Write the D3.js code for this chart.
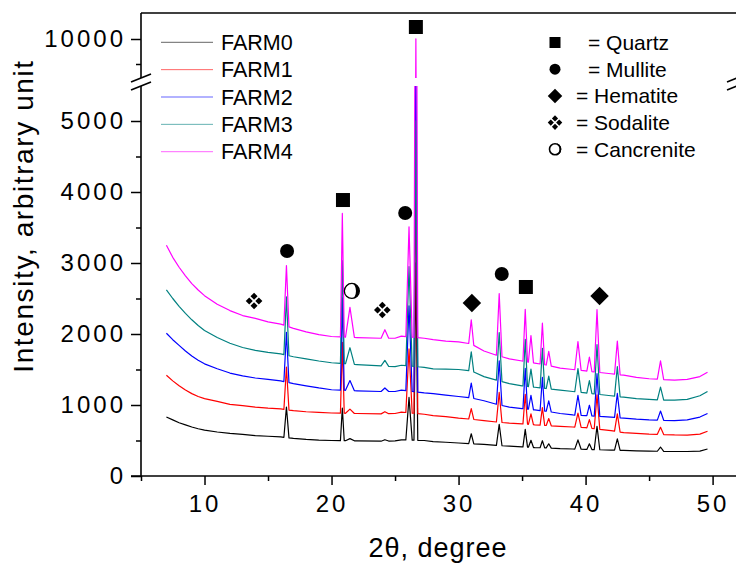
<!DOCTYPE html>
<html>
<head>
<meta charset="utf-8">
<script src="https://cdn.jsdelivr.net/npm/d3@7"></script>
<style>
body { margin: 0; background: #fff; }
text { font-family: "Liberation Sans", Arial, sans-serif; fill: #000; }
</style>
</head>
<body>
<svg id="chart" width="736" height="566"></svg>
<script>
// ---- data ----
var series = ['FARM0', 'FARM1', 'FARM2', 'FARM3', 'FARM4'];
var colors = ['#000000', '#ff0000', '#0000ff', '#008080', '#ff00ff'];

// background (amorphous hump + offset) of each pattern, intensity vs 2theta
var baseTheta = [7, 7.5, 8, 8.5, 9, 9.5, 10, 11, 12, 13, 14, 15, 16, 17, 18, 19, 20, 22, 24, 25, 25.5, 27.3,
	28, 29, 30, 31, 32, 33, 34, 35, 36, 37, 38, 39, 40, 41, 42, 43, 44, 45, 46, 47, 48, 49, 49.6];
var baseline0 = [830, 790, 750, 720, 690, 665, 645, 620, 600, 585, 570, 560, 550, 530, 515, 505, 500, 495, 490, 495, 510, 500,
	485, 475, 465, 455, 445, 430, 420, 410, 400, 395, 385, 380, 375, 370, 365, 360, 355, 350, 348, 345, 345, 350, 380];
var baseline1 = [1420, 1340, 1270, 1210, 1160, 1120, 1090, 1050, 1010, 990, 970, 955, 945, 920, 905, 895, 887, 880, 875, 880, 900, 870,
	850, 835, 815, 800, 780, 760, 745, 735, 720, 710, 700, 690, 680, 660, 640, 610, 600, 590, 585, 578, 575, 590, 630];
var baseline2 = [2010, 1920, 1840, 1760, 1690, 1630, 1580, 1510, 1450, 1410, 1380, 1360, 1340, 1300, 1270, 1240, 1215, 1200, 1190, 1190, 1210, 1170,
	1160, 1140, 1120, 1100, 1060, 1010, 970, 950, 930, 910, 880, 860, 850, 840, 830, 815, 800, 790, 785, 780, 790, 830, 880];
var baseline3 = [2620, 2500, 2390, 2290, 2200, 2120, 2050, 1950, 1870, 1810, 1770, 1740, 1720, 1680, 1650, 1620, 1595, 1570, 1550, 1540, 1560, 1530,
	1510, 1505, 1500, 1480, 1400, 1350, 1300, 1270, 1250, 1230, 1210, 1190, 1170, 1150, 1130, 1110, 1090, 1080, 1070, 1070, 1080, 1130, 1190];
var baseline4 = [3250, 3080, 2940, 2820, 2710, 2620, 2540, 2420, 2330, 2260, 2220, 2170, 2140, 2080, 2030, 1990, 1965, 1950, 1940, 1940, 1970, 1940,
	1920, 1900, 1890, 1860, 1760, 1700, 1650, 1620, 1590, 1560, 1520, 1500, 1480, 1460, 1440, 1420, 1390, 1370, 1360, 1350, 1360, 1400, 1460];

// diffraction peaks: position, half width at the foot, height above background
var peakTheta = [16.45, 20.85, 21.45, 24.2, 26.1, 26.64, 31.0, 33.2, 35.25, 35.7, 36.6, 37.1, 39.4, 40.3, 40.9, 42.5, 45.9];
var peakHalfWidth = [0.2, 0.15, 0.35, 0.3, 0.25, 0.15, 0.2, 0.22, 0.18, 0.2, 0.18, 0.2, 0.25, 0.2, 0.22, 0.22, 0.25];
var peaks0 = [430, 460, 30, 20, 600, 2500, 140, 300, 250, 100, 100, 60, 130, 80, 330, 160, 60];
var peaks1 = [600, 1000, 60, 30, 900, 3420, 150, 420, 420, 150, 250, 100, 200, 120, 480, 250, 100];
var peaks2 = [700, 1300, 140, 50, 1200, 4800, 210, 620, 570, 200, 470, 150, 280, 150, 600, 340, 130];
var peaks3 = [820, 1450, 230, 80, 1400, 3460, 270, 680, 660, 250, 560, 180, 330, 180, 700, 420, 180];
var peaks4 = [850, 1740, 420, 120, 1550, 8050, 340, 880, 735, 380, 580, 200, 400, 200, 880, 470, 260];

// phase markers
var markerTheta = [26.64, 20.9, 35.3, 16.5, 25.8, 33.4, 31.05, 41.1, 13.9, 24.0, 21.6];
var markerValue = [10240, 3887, 2662, 3169, 3704, 2845, 2437, 2535, 2465, 2338, 2606];
var markerType = ['Q', 'Q', 'Q', 'M', 'M', 'M', 'H', 'H', 'S', 'S', 'C'];
var phaseTypes = ['Q', 'M', 'H', 'S', 'C'];
var phaseLabels = ['= Quartz', '= Mullite', '= Hematite', '= Sodalite', '= Cancrenite'];

var xTicks = [10, 20, 30, 40, 50];
var xMinor = [5, 15, 25, 35, 45];
var yTicksLow = [0, 1000, 2000, 3000, 4000, 5000];
var yMinorLow = [500, 1500, 2500, 3500, 4500];
var yTicksHigh = [10000];
var yMinorHigh = [9500];

var baselines = [baseline0, baseline1, baseline2, baseline3, baseline4];
var peaks = [peaks0, peaks1, peaks2, peaks3, peaks4];

// ---- layout ----
var svg = d3.select('#chart');
var plotLeft = 141, plotRight = 737, plotTop = 13, plotBottom = 476;
var breakLow = 86, breakHigh = 78;

var x = d3.scaleLinear().domain([5, 52]).range([plotLeft, 738]);
var yLow = d3.scaleLinear().domain([0, 5500]).range([plotBottom, 85.5]);
var yHigh = d3.scaleLinear().domain([9220, 10520]).range([breakHigh, plotTop]);

var defs = svg.append('defs');
defs.append('clipPath').attr('id', 'clipLow').append('rect')
	.attr('x', plotLeft).attr('y', breakLow).attr('width', plotRight - plotLeft).attr('height', plotBottom - breakLow);
defs.append('clipPath').attr('id', 'clipHigh').append('rect')
	.attr('x', plotLeft).attr('y', plotTop).attr('width', plotRight - plotLeft).attr('height', breakHigh - plotTop);

function buildSeries(i) {
	var base = d3.scaleLinear().domain(baseTheta).range(baselines[i]);
	var pts = [];
	baseTheta.forEach(function(t, k) {
		var covered = peakTheta.some(function(p, j) { return Math.abs(t - p) <= peakHalfWidth[j]; });
		if (!covered) pts.push([t, baselines[i][k]]);
	});
	peakTheta.forEach(function(p, j) {
		var w = peakHalfWidth[j];
		pts.push([p - w, base(p - w)]);
		pts.push([p, base(p) + peaks[i][j]]);
		pts.push([p + w, base(p + w)]);
	});
	pts.sort(function(a, b) { return a[0] - b[0]; });
	return pts;
}

var data = series.map(function(s, i) { return buildSeries(i); });

[['clipLow', yLow], ['clipHigh', yHigh]].forEach(function(panel) {
	var y = panel[1];
	var line = d3.line().x(function(d) { return x(d[0]); }).y(function(d) { return y(d[1]); });
	svg.append('g').attr('clip-path', 'url(#' + panel[0] + ')')
		.selectAll('path').data(data).enter().append('path')
		.attr('d', line)
		.attr('fill', 'none')
		.attr('stroke', function(d, i) { return colors[i]; })
		.attr('stroke-width', 1.2)
		.attr('stroke-linejoin', 'round');
});

// ---- axes ----
function styleAxis(g) {
	g.select('.domain').remove();
	g.selectAll('line').attr('stroke', '#000').attr('stroke-width', 1.5);
	g.selectAll('text').attr('font-size', 24).attr('letter-spacing', 3)
		.attr('font-family', '"Liberation Sans", Arial, sans-serif');
}

svg.append('g').attr('transform', 'translate(0,' + plotBottom + ')')
	.call(d3.axisBottom(x).tickValues(xTicks).tickSize(9).tickPadding(10).tickFormat(d3.format('d')))
	.call(styleAxis);
svg.append('g').attr('transform', 'translate(0,' + plotBottom + ')')
	.call(d3.axisBottom(x).tickValues(xMinor).tickSize(5).tickFormat(''))
	.call(styleAxis);

svg.append('g').attr('transform', 'translate(' + plotLeft + ',0)')
	.call(d3.axisLeft(yLow).tickValues(yTicksLow).tickSize(10).tickPadding(5).tickFormat(d3.format('d')))
	.call(styleAxis);
svg.append('g').attr('transform', 'translate(' + plotLeft + ',0)')
	.call(d3.axisLeft(yLow).tickValues(yMinorLow).tickSize(5).tickFormat(''))
	.call(styleAxis);
svg.append('g').attr('transform', 'translate(' + plotLeft + ',0)')
	.call(d3.axisLeft(yHigh).tickValues(yTicksHigh).tickSize(10).tickPadding(5).tickFormat(d3.format('d')))
	.call(styleAxis);
svg.append('g').attr('transform', 'translate(' + plotLeft + ',0)')
	.call(d3.axisLeft(yHigh).tickValues(yMinorHigh).tickSize(5).tickFormat(''))
	.call(styleAxis);

var frame = svg.append('g').attr('stroke', '#000').attr('stroke-width', 1.6).attr('fill', 'none');
frame.append('line').attr('x1', plotLeft - 10).attr('x2', 738).attr('y1', plotBottom).attr('y2', plotBottom);
frame.append('line').attr('x1', plotLeft).attr('x2', 738).attr('y1', plotTop).attr('y2', plotTop);
[plotLeft, plotRight].forEach(function(ax) {
	frame.append('line').attr('x1', ax).attr('x2', ax).attr('y1', plotTop).attr('y2', breakHigh);
	frame.append('line').attr('x1', ax).attr('x2', ax).attr('y1', breakLow).attr('y2', plotBottom);
	// break marks
	var cy = (breakLow + breakHigh) / 2;
	frame.append('line').attr('x1', ax - 10).attr('y1', cy).attr('x2', ax + 10).attr('y2', cy - 8);
	frame.append('line').attr('x1', ax - 10).attr('y1', cy + 8).attr('x2', ax + 10).attr('y2', cy);
});

// axis titles
svg.append('text').attr('transform', 'translate(33,216) rotate(-90)')
	.attr('text-anchor', 'middle').attr('font-size', 28).attr('letter-spacing', 1.6)
	.text('Intensity, arbitrary unit');
svg.append('text').attr('x', 438).attr('y', 557)
	.attr('text-anchor', 'middle').attr('font-size', 27).attr('letter-spacing', 1)
	.text('2\u03b8, degree');

// ---- phase symbols ----
function drawSymbol(g, type, s) {
	if (type === 'Q') {
		g.append('rect').attr('x', -s / 2).attr('y', -s / 2).attr('width', s).attr('height', s).attr('fill', '#000');
	} else if (type === 'M') {
		g.append('circle').attr('r', s / 2).attr('fill', '#000');
	} else if (type === 'H') {
		var h = s * 0.66;
		g.append('path').attr('d', 'M0,' + (-h) + 'L' + h + ',0L0,' + h + 'L' + (-h) + ',0Z').attr('fill', '#000');
	} else if (type === 'S') {
		var d = s * 0.3, r = s * 0.22;
		[[0, -d], [d, 0], [0, d], [-d, 0]].forEach(function(c) {
			g.append('path').attr('d', 'M' + c[0] + ',' + (c[1] - r) + 'L' + (c[0] + r) + ',' + c[1] +
				'L' + c[0] + ',' + (c[1] + r) + 'L' + (c[0] - r) + ',' + c[1] + 'Z').attr('fill', '#000');
		});
	} else if (type === 'C') {
		var rr = s / 2;
		g.append('circle').attr('r', rr).attr('fill', '#fff').attr('stroke', '#000').attr('stroke-width', 1.3);
		g.append('path').attr('d', 'M0,' + (-rr) + 'A' + rr + ',' + rr + ' 0 0 1 0,' + rr +
			'A' + (rr * 0.55) + ',' + rr + ' 0 0 0 0,' + (-rr) + 'Z').attr('fill', '#000');
	}
}

markerTheta.forEach(function(t, i) {
	var v = markerValue[i];
	var py = v > 5500 ? yHigh(v) : yLow(v);
	var size = markerType[i] === 'S' ? 16 : (markerType[i] === 'C' ? 15 : 14);
	var g = svg.append('g').attr('transform', 'translate(' + x(t) + ',' + py + ')');
	drawSymbol(g, markerType[i], size);
});

// ---- legends ----
var legend = svg.append('g');
series.forEach(function(s, i) {
	var ly = 42.3 + i * 27.35;
	legend.append('line').attr('x1', 161).attr('x2', 213).attr('y1', ly).attr('y2', ly)
		.attr('stroke', colors[i]).attr('stroke-width', 1).attr('opacity', 0.6);
	legend.append('text').attr('x', 221).attr('y', ly + 7.7).attr('font-size', 21.5).text(s);
});

var phaseLegend = svg.append('g');
phaseTypes.forEach(function(t, i) {
	var by = 50 + i * 26.7;
	var g = phaseLegend.append('g').attr('transform', 'translate(555,' + (by - 7.5) + ')');
	if (t === 'C') {
		// legend shows a plain ring with a heavier right side
		g.append('circle').attr('r', 5.5).attr('fill', '#fff').attr('stroke', '#000').attr('stroke-width', 1.6);
		g.append('path').attr('d', 'M0,-6.3A6.3,6.3 0 0 1 0,6.3A4.5,6.3 0 0 0 0,-6.3Z').attr('fill', '#000');
	} else {
		drawSymbol(g, t, t === 'S' ? 14 : 11);
	}
	phaseLegend.append('text').attr('x', i < 2 ? 588 : 576).attr('y', by).attr('font-size', 21).text(phaseLabels[i]);
});
</script>
</body>
</html>
